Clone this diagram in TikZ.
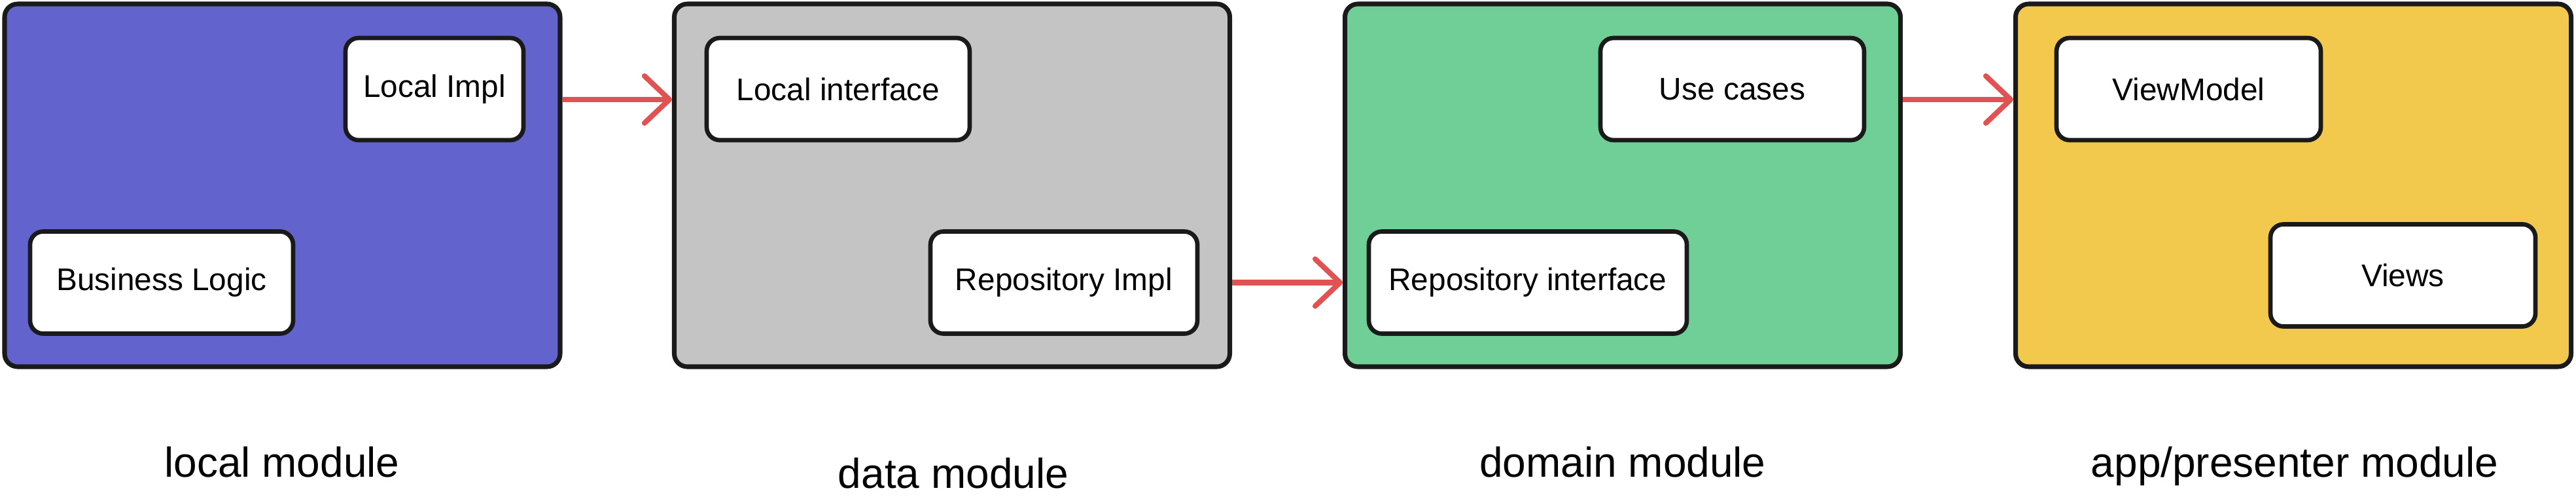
\documentclass[tikz,border=0pt]{standalone}
\usepackage{fontspec}
\setmainfont{Liberation Sans}
\usetikzlibrary{arrows.meta}
\definecolor{localfill}{HTML}{6363CD}
\definecolor{datafill}{HTML}{C4C4C4}
\definecolor{domainfill}{HTML}{6FCF97}
\definecolor{appfill}{HTML}{F2C94C}
\definecolor{linkred}{HTML}{E25252}
\definecolor{rim}{HTML}{1A1A1A}
\tikzset{
  module/.style={draw=rim,line width=2pt,rounded corners=0.2cm,minimum width=8.49cm,minimum height=5.54cm,inner sep=0pt},
  part/.style={draw=rim,fill=white,line width=1.9pt,rounded corners=0.2cm,minimum height=1.56cm,inner sep=0pt,font=\fontsize{13.6}{16}\selectfont},
  dep/.style={linkred,line width=2.3pt,-{Straight Barb[length=3.8mm,width=7.2mm,round]}},
  caption/.style={anchor=base,font=\fontsize{18.2}{22}\selectfont}
}
\begin{document}
\begin{tikzpicture}
        \useasboundingbox (0,0) rectangle (39.37,7.61);
        % modules
        \node[module,fill=localfill] (local) at (4.315,4.78) {};
        \node[module,fill=datafill] (data) at (14.55,4.78) {};
        \node[module,fill=domainfill] (domain) at (24.80,4.78) {};
        \node[module,fill=appfill] (app) at (35.05,4.78) {};
        % parts
        \node[part,minimum width=2.72cm] (limpl) at (6.64,6.25) {Local Impl};
        \node[part,minimum width=4.02cm] (logic) at (2.47,3.295) {Business Logic};
        \node[part,minimum width=4.02cm] (lint) at (12.81,6.25) {Local interface};
        \node[part,minimum width=4.08cm] (rimpl) at (16.26,3.295) {Repository Impl};
        \node[part,minimum width=4.03cm] (cases) at (26.475,6.25) {Use cases};
        \node[part,minimum width=4.86cm] (rint) at (23.35,3.295) {Repository interface};
        \node[part,minimum width=4.04cm] (vm) at (33.45,6.25) {ViewModel};
        \node[part,minimum width=4.05cm] (views) at (36.725,3.405) {Views};
        % links
        \draw[dep] (local.east |- 0,6.09) -- (data.west |- 0,6.09);
        \draw[dep] (data.east |- rimpl) -- (domain.west |- rint);
        \draw[dep] (domain.east |- 0,6.09) -- (app.west |- 0,6.09);
        % captions
        \node[caption] (lcap) at (4.31,0.33) {local module};
        \node[caption] (dcap) at (14.57,0.16) {data module};
        \node[caption] (ocap) at (24.80,0.33) {domain module};
        \node[caption] (acap) at (35.07,0.33) {app/presenter module};
\end{tikzpicture}
\end{document}
